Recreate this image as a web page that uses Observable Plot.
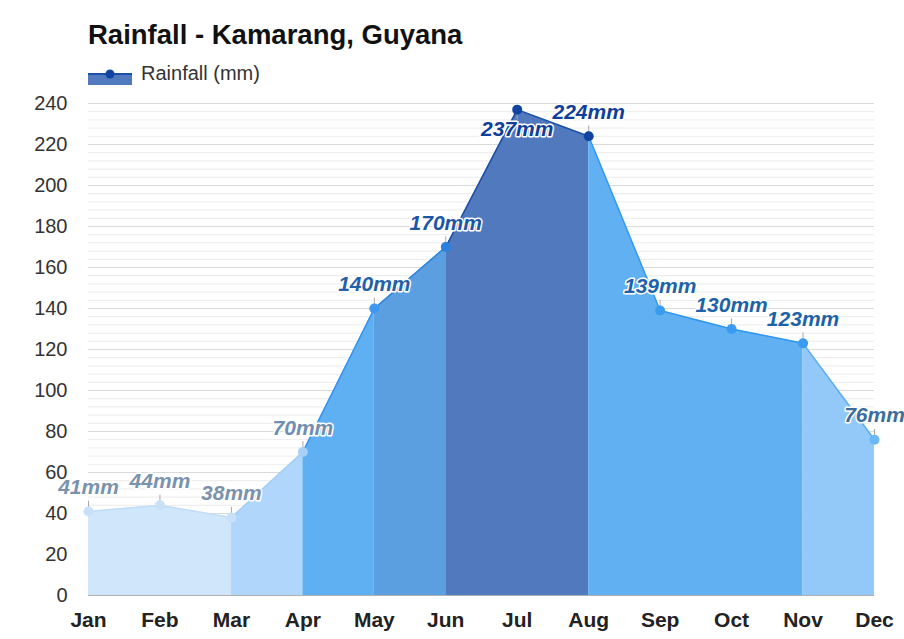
<!DOCTYPE html>
<html>
<head>
<meta charset="utf-8">
<script src="https://cdn.jsdelivr.net/npm/d3@7"></script>
<script src="https://cdn.jsdelivr.net/npm/@observablehq/plot@0.6"></script>
<style>
  body { margin: 0; background: #ffffff; font-family: "Liberation Sans", Arial, sans-serif; }
  #wrap { position: relative; width: 904px; height: 639px; overflow: hidden; }
  #header { position: relative; height: 90px; }
  #title { position: absolute; left: 88px; top: 19px; font-size: 27.5px; font-weight: bold; color: #111; white-space: nowrap; }
  #legend { position: absolute; left: 88px; top: 62px; height: 26px; }
  #legend svg { position: absolute; left: 0; top: 0; }
  #legend span { position: absolute; left: 53px; top: 0px; font-size: 20px; color: #333; white-space: nowrap; }
</style>
</head>
<body>
<div id="wrap">
  <div id="header">
    <div id="title">Rainfall - Kamarang, Guyana</div>
    <div id="legend">
      <svg width="46" height="26"><rect x="0" y="12" width="44" height="11" fill="#5179bd"></rect><line x1="0" y1="12" x2="44" y2="12" stroke="#1a4fa8" stroke-width="2"></line><circle cx="22" cy="12" r="4.5" fill="#0f45a0"></circle></svg>
      <span>Rainfall (mm)</span>
    </div>
  </div>
  <div id="chart"></div>
</div>
<script>
const months = ["Jan","Feb","Mar","Apr","May","Jun","Jul","Aug","Sep","Oct","Nov","Dec"];
const rainfall = [41, 44, 38, 70, 140, 170, 237, 224, 139, 130, 123, 76];
const yTicks = [0, 20, 40, 60, 80, 100, 120, 140, 160, 180, 200, 220, 240];
const yMinorStep = 4;
// segment colours (segment i runs from month i to month i+1)
const segFill = ["#cfe6fb","#cfe6fb","#b0d6fb","#5eb0f2","#5c9fe0","#5179bd","#5179bd","#60b0f2","#60b0f2","#60b0f2","#93c9f8"];
const segStroke = ["#c2ddf7","#c2ddf7","#a6cff7","#3592ee","#2c86e0","#1a4fa8","#1a4fa8","#3096f0","#3096f0","#3096f0","#5aaaf2"];
const dotColor = ["#c9e1f8","#c9e1f8","#c9e1f8","#a8cff5","#3d98ee","#2a7fdf","#0f45a0","#0f45a0","#3a9cf0","#3a9cf0","#3a9cf0","#6ab8f5"];
const labelColor = ["#7a92ad","#7a92ad","#7a92ad","#6f8eae","#2460a8","#1d55a5","#0f3f9a","#0f3f9a","#1c63a8","#1c63a8","#1c63a8","#3d6d9c"];
const labelBelow = [false,false,false,false,false,false,true,false,false,false,false,false];

const points = months.map((m, i) => ({i, m, v: rainfall[i], below: labelBelow[i], dot: dotColor[i], lab: labelColor[i]}));
const segs = d3.range(months.length - 1).flatMap(s => [
  {x: s, y: rainfall[s], s},
  {x: s + 1, y: rainfall[s + 1], s}
]);
const minor = d3.range(yTicks[0], yTicks[yTicks.length - 1] + 0.001, yMinorStep).filter(v => !yTicks.includes(v));

const chart = Plot.plot({
  width: 904,
  height: 549,
  marginTop: 13,
  marginBottom: 44,
  marginLeft: 88,
  marginRight: 30,
  style: {fontFamily: "'Liberation Sans', Arial, sans-serif", background: "transparent", overflow: "visible"},
  x: {type: "linear", domain: [0, 11], ticks: d3.range(12), tickFormat: i => months[i]},
  y: {domain: [0, 240], ticks: yTicks},
  color: {type: "identity"},
  marks: [
    Plot.ruleY(minor, {stroke: "#ebebeb", strokeWidth: 1}),
    Plot.ruleY(yTicks, {stroke: "#d9d9d9", strokeWidth: 1}),
    Plot.area(segs, {x1: "x", y1: 0, y2: "y", z: d => segFill[d.s], fill: d => segFill[d.s], curve: "linear"}),
    Plot.line(segs, {x: "x", y: "y", z: d => segStroke[d.s], stroke: d => segStroke[d.s], strokeWidth: 1.5}),
    Plot.ruleX(points, {x: "i", y1: "v", y2: d => d.below ? d.v - 5 : d.v + 5, stroke: "#a8a8a8", strokeWidth: 1}),
    Plot.dot(points, {x: "i", y: "v", r: 5, fill: "dot", stroke: "none"}),
    Plot.text(points.filter(d => !d.below), {x: "i", y: "v", text: d => d.v + "mm", dy: -24, fill: "lab", stroke: "white", strokeWidth: 3, paintOrder: "stroke", fontSize: 21, fontWeight: "bold", fontStyle: "italic"}),
    Plot.text(points.filter(d => d.below), {x: "i", y: "v", text: d => d.v + "mm", dy: 20, fill: "lab", stroke: "white", strokeWidth: 3, paintOrder: "stroke", fontSize: 21, fontWeight: "bold", fontStyle: "italic"}),
    Plot.ruleY([0], {stroke: "#b0b0b0"}),
    Plot.axisY({ticks: yTicks, tickSize: 0, tickPadding: 21, fontSize: 20, fill: "#333", label: null}),
    Plot.axisX({ticks: d3.range(12), tickFormat: i => months[i], tickSize: 0, tickPadding: 17, fontSize: 21, fontWeight: "bold", fill: "#222", label: null})
  ]
});
document.getElementById("chart").appendChild(chart);
</script>
</body>
</html>
